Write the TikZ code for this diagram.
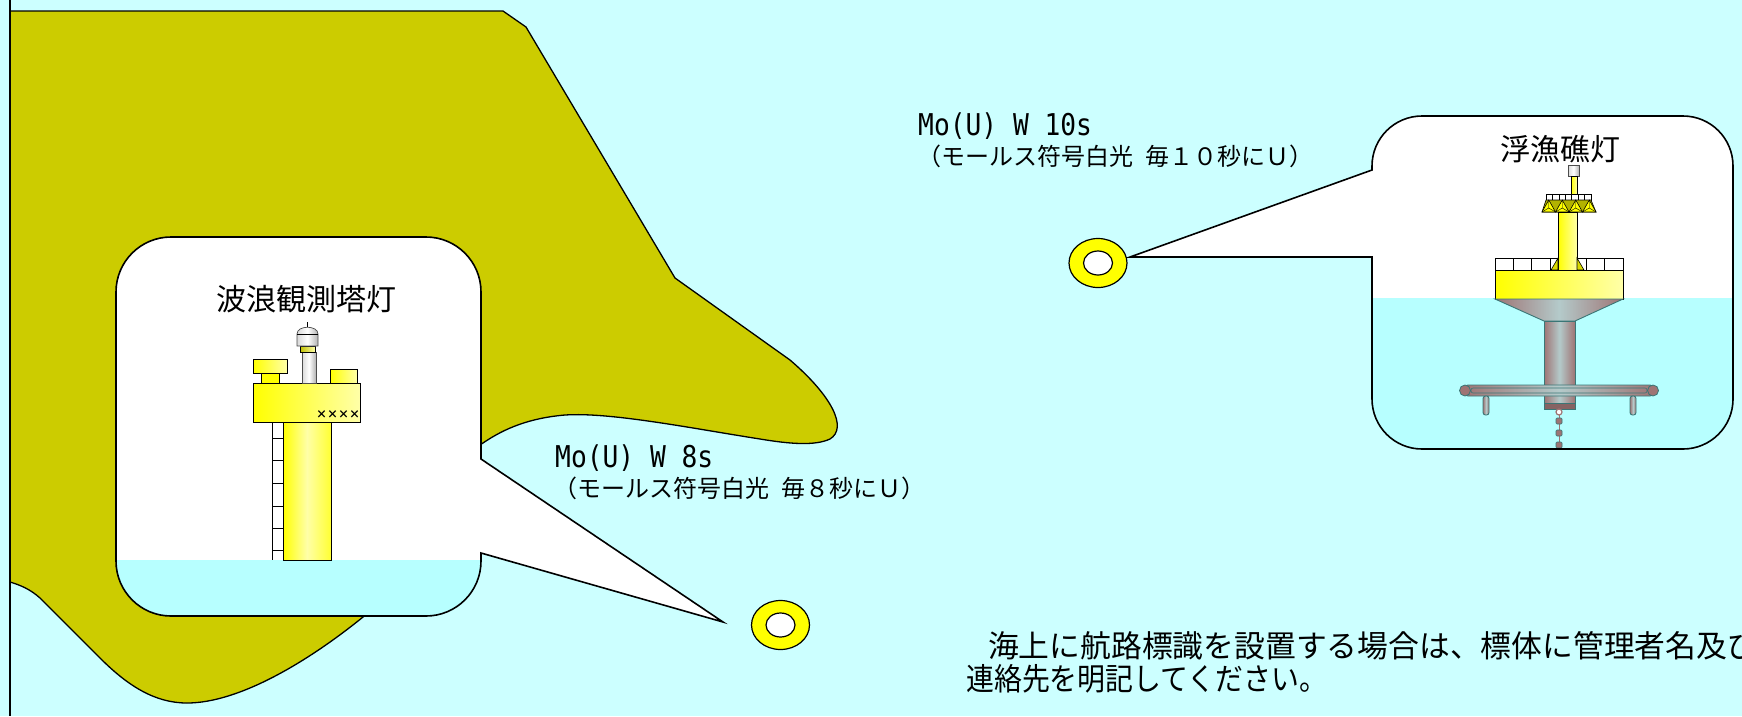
\documentclass[tikz,border=0pt]{standalone}
\usepackage{fontspec}
\usetikzlibrary{calc,shapes.geometric}

\newfontfamily\jpfont{Noto Sans CJK JP}
\newfontfamily\jpnarrowfont[FakeStretch=0.9]{Noto Sans CJK JP}
\newfontfamily\charfont[FakeStretch=0.875]{DejaVu Sans Mono}

\definecolor{SeaBg}{HTML}{CCFFFF}
\definecolor{SeaIn}{HTML}{B7FFFF}
\definecolor{Shore}{HTML}{CCCC00}
\definecolor{MarkYellow}{HTML}{FFFF00}
\definecolor{PaleYellow}{HTML}{FFFFA8}
\definecolor{HullDark}{HTML}{9E7474}
\definecolor{HullLight}{HTML}{B4CACA}
\definecolor{HullEdge}{HTML}{3A7676}

\tikzset{
    coastline/.style={draw=black, line width=1.3pt},
    bubble/.style={draw=black, line width=1.6pt},
    yellowpart/.style={draw=black, line width=0.9pt, left color=MarkYellow, right color=PaleYellow},
    lamp/.style={draw=black!70, line width=0.7pt, left color=black!15, right color=black!30, middle color=white},
    hull/.style={draw=HullEdge, line width=0.9pt, left color=HullDark, right color=HullDark, middle color=HullLight},
    ringbuoy/.style={ellipse, draw=black, line width=1.2pt, fill=MarkYellow, inner sep=0pt, minimum width=58pt, minimum height=49pt},
    ringhole/.style={ellipse, draw=black, line width=1.2pt, fill=white, inner sep=0pt, minimum width=29pt, minimum height=24pt},
    charlabel/.style={anchor=base west, inner sep=0pt, font=\charfont\fontsize{30}{30}\selectfont},
    jplabel/.style={anchor=base west, inner sep=0pt, font=\jpfont\fontsize{24}{24}\selectfont},
    jptitle/.style={anchor=base, inner sep=0pt, font=\jpfont\fontsize{30}{30}\selectfont},
    jpnote/.style={anchor=base west, inner sep=0pt, font=\jpnarrowfont\fontsize{31}{31}\selectfont},
}

\begin{document}
\begin{tikzpicture}[x=1pt, y=-1pt]
            \useasboundingbox (0,0) rectangle (1742,716);
            \fill[SeaBg] (0,0) rectangle (1742,716);

            % land
            \filldraw[fill=Shore, coastline] (10,11) -- (503,11) -- (526,27) -- (675,278) -- (790,360)
                .. controls (832,396) and (848,428) .. (830,439)
                .. controls (815,446) and (790,444) .. (760,439)
                .. controls (690,428) and (610,412) .. (565,415)
                .. controls (530,418) and (505,428) .. (483,443)
                -- (440,470) -- (400,590) -- (363,617)
                .. controls (310,660) and (240,703) .. (187,703)
                .. controls (155,703) and (128,686) .. (100,658)
                -- (40,598) .. controls (30,589) and (20,585) .. (10,582) -- cycle;
            \draw[coastline] (10,0) -- (10,716);

            % callout of the wave tower
            \coordinate (tipS) at (723,622);
            \path[save path=\towerbubble] (171,237) -- (426,237) arc[start angle=-90, end angle=0, radius=55]
                -- (481,459) -- (tipS) -- (481,553) -- (481,561) arc[start angle=0, end angle=90, radius=55]
                -- (171,616) arc[start angle=90, end angle=180, radius=55]
                -- (116,292) arc[start angle=180, end angle=270, radius=55] -- cycle;
            \fill[white, use path=\towerbubble];
            \begin{scope}
                \clip[rounded corners=55pt] (116,237) rectangle (481,616);
                \fill[SeaIn] (116,560) rectangle (481,616);
            \end{scope}
            \draw[bubble, use path=\towerbubble];

            % ladder
            \draw[line width=1pt] (272,422) -- (272,560);
            \foreach \y in {438,460,483,506,528,550}
                \draw[line width=1pt] (272,\y) -- (283,\y);
            % column, deck and boxes
            \draw[yellowpart, right color=MarkYellow!70!PaleYellow, middle color=PaleYellow] (283,422) rectangle (331,560);
            \draw[yellowpart] (253,383) rectangle (360,422);
            \draw[line width=0.9pt, fill=MarkYellow] (261,373) rectangle (279,383);
            \draw[yellowpart] (253,359) rectangle (287,373);
            \draw[yellowpart] (330,369) rectangle (357,383);
            \node[inner sep=0pt, font=\jpfont\bfseries\fontsize{11}{11}\selectfont] (plate) at (338,415) {××××};
            % light
            \draw[lamp] (302,352) rectangle (316,383);
            \draw[line width=0.7pt, left color=MarkYellow!75!black, right color=PaleYellow] (300,346) rectangle (315,352);
            \draw[lamp] (297,346) -- (297,334) .. controls (297,325) and (318,325) .. (318,334) -- (318,346) -- cycle;
            \draw[line width=0.6pt] (297,334) -- (318,334);
            \draw[line width=0.6pt] (307.5,327) -- (307.5,322);

            % callout of the fish buoy
            \coordinate (tipN) at (1130,257);
            \path[save path=\buoybubble] (1422,116) -- (1683,116) arc[start angle=-90, end angle=0, radius=50]
                -- (1733,399) arc[start angle=0, end angle=90, radius=50]
                -- (1422,449) arc[start angle=90, end angle=180, radius=50]
                -- (1372,257) -- (tipN) -- (1372,170) -- (1372,166) arc[start angle=180, end angle=270, radius=50] -- cycle;
            \fill[white, use path=\buoybubble];
            \begin{scope}
                \clip[rounded corners=50pt] (1372,116) rectangle (1733,449);
                \fill[SeaIn] (1372,298) rectangle (1733,449);

                % light and upper mast
                \draw[lamp] (1568,165) rectangle (1579,176);
                \draw[yellowpart, line width=0.6pt] (1571,176) rectangle (1577,194);
                % radar reflector
                \draw[line width=0.6pt, fill=white] (1546,194) rectangle (1591,200);
                \foreach \i in {1,...,6}
                    \draw[line width=0.6pt] ({1546+\i*45/7},194) -- ++(0,6);
                \filldraw[line width=0.6pt, fill=MarkYellow!70!black] (1546,200) -- (1591,200) -- (1596,212) -- (1542,212) -- cycle;
                \foreach \i in {0,...,3} {
                    \draw[line width=0.6pt, fill=MarkYellow] ({1542+\i*13.5},212) -- ({1548.75+\i*13.5},200) -- ({1555.5+\i*13.5},212) -- cycle;
                    \draw[line width=0.4pt] ({1542+\i*13.5},212) -- ({1548.75+\i*13.5},208) -- ({1555.5+\i*13.5},212)
                        ({1548.75+\i*13.5},208) -- ({1548.75+\i*13.5},200);
                }
                % deck guard
                \draw[line width=0.6pt, fill=white] (1495,258) rectangle (1623,270);
                \foreach \i in {1,...,6}
                    \draw[line width=0.6pt] ({1495+\i*128/7},258) -- ++(0,12);
                \draw[yellowpart, line width=0.7pt] (1558,212) rectangle (1577,270);
                \draw[line width=0.6pt, fill=MarkYellow!85!black] (1558,258) -- (1551,270) -- (1558,270) -- cycle;
                \draw[line width=0.6pt, fill=MarkYellow!85!black] (1577,258) -- (1584,270) -- (1577,270) -- cycle;
                % float and hull
                \draw[yellowpart, line width=0.7pt] (1495,270) rectangle (1623,299);
                \draw[hull] (1495,299) -- (1623,299) -- (1575,321) -- (1544,321) -- cycle;
                \draw[hull] (1544,321) rectangle (1575,409);
                \draw[draw=HullEdge, line width=0.9pt, fill=HullDark!85!black] (1544,403) rectangle (1575,409);
                \draw[hull, rounded corners=5pt] (1463,385) rectangle (1655,396);
                \draw[HullEdge, line width=0.6pt, rounded corners=2pt] (1471,388) rectangle (1647,393);
                \draw[draw=HullEdge, line width=0.8pt, fill=HullDark] (1465,390.5) circle (5.5);
                \draw[draw=HullEdge, line width=0.8pt, fill=HullDark] (1653,390.5) circle (5.5);
                \draw[hull, rounded corners=2.5pt] (1483,396) rectangle (1489,415);
                \draw[hull, rounded corners=2.5pt] (1630,396) rectangle (1636,415);
                % mooring chain
                \draw[HullDark, line width=1pt] (1559,414) -- (1559,452);
                \draw[draw=HullDark, line width=1.2pt, fill=white] (1559,412) circle (3);
                \foreach \y in {418,430,442}
                    \draw[draw=HullEdge, line width=0.6pt, fill=HullDark, rounded corners=1pt] (1556,\y) rectangle (1562,\y+6);
            \end{scope}
            \draw[bubble, use path=\buoybubble];

            % ring buoys on the water
            \node[ringbuoy] (buoyS) at (780.5,625) {};
            \node[ringhole] (buoyS-hole) at (buoyS.center) {};
            \node[ringbuoy] (buoyN) at (1098,263) {};
            \node[ringhole] (buoyN-hole) at (buoyN.center) {};

            % texts
            \node[jptitle] (titleT) at (306.5,310) {波浪観測塔灯};
            \node[jptitle] (titleB) at (1560.5,160) {浮漁礁灯};
            \node[charlabel] (freqS) at (555,467) {Mo(U) W 8s};
            \node[jplabel] (descS) at (553,497) {（モールス符号白光\enspace 毎８秒にＵ）};
            \node[charlabel] (freqN) at (918,135) {Mo(U) W 10s};
            \node[jplabel] (descN) at (917,165) {（モールス符号白光\enspace 毎１０秒にＵ）};
            \node[jpnote, font=\jpfont\fontsize{30.8}{30.8}\selectfont] (noteA) at (957,657) {　海上に航路標識を設置する場合は、標体に管理者名及び};
            \node[jpnote] (noteB) at (966,690) {連絡先を明記してください。};
\end{tikzpicture}
\end{document}
